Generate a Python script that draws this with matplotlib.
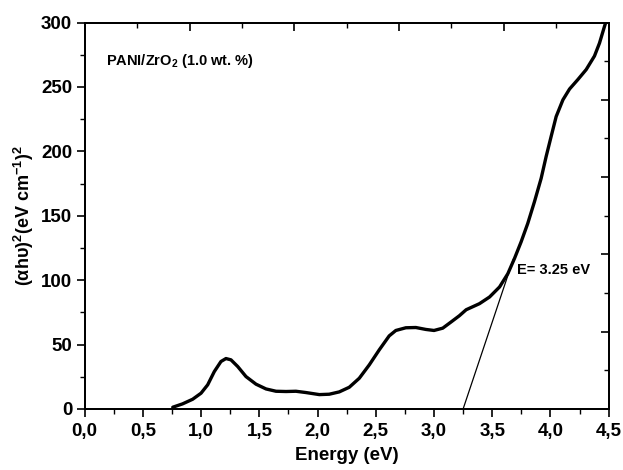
import matplotlib
matplotlib.use("Agg")
import matplotlib.pyplot as plt
from matplotlib.ticker import MultipleLocator, FuncFormatter

plt.rcParams['font.family'] = ['Liberation Sans', 'DejaVu Sans']
plt.rcParams['mathtext.fontset'] = 'custom'
plt.rcParams['mathtext.rm'] = 'Liberation Sans:bold'
plt.rcParams['mathtext.bf'] = 'Liberation Sans:bold'
plt.rcParams['mathtext.default'] = 'bf'

# curve
energy = [0.756, 0.84, 0.927, 0.999, 1.056, 1.113, 1.17, 1.213, 1.256, 1.314,
          1.385, 1.471, 1.557, 1.643, 1.729, 1.814, 1.9, 2.015, 2.1, 2.186,
          2.272, 2.358, 2.444, 2.53, 2.615, 2.672, 2.758, 2.844, 2.93, 3.0,
          3.075, 3.145, 3.217, 3.276, 3.39, 3.477, 3.563, 3.634, 3.691, 3.748,
          3.805, 3.863, 3.92, 3.963, 4.006, 4.049, 4.107, 4.164, 4.235, 4.307,
          4.378, 4.421, 4.464, 4.478]
absorb = [1.3, 3.9, 7.5, 12.2, 18.7, 29, 36.8, 39.1, 38.1, 32.9,
          25.1, 19.2, 15.5, 13.7, 13.5, 13.7, 12.7, 11.1, 11.4, 13.2,
          16.8, 23.8, 34.2, 45.9, 56.7, 60.9, 63, 63.2, 61.7, 60.9,
          62.7, 67.4, 72.3, 77, 81.7, 86.9, 94.7, 105, 116.8, 129.7,
          144, 161, 179, 196, 211.6, 227, 240, 248.4, 255.7, 263.5,
          274, 284, 297, 301]

# tangent line for the band gap
tangent_x = [3.25, 3.68]
tangent_y = [0, 116]

fig = plt.figure(figsize=(6.23, 4.70), dpi=100)
ax = fig.add_axes([0.136, 0.130, 0.841, 0.822])

ax.plot(energy, absorb, color='black', lw=2.4, solid_capstyle='round',
        solid_joinstyle='round')
ax.plot(tangent_x, tangent_y, color='black', lw=0.9)

ax.set_xlim(0, 4.5)
ax.set_ylim(0, 300)
ax.xaxis.set_major_locator(MultipleLocator(0.5))
ax.xaxis.set_minor_locator(MultipleLocator(0.25))
ax.yaxis.set_major_locator(MultipleLocator(50))
ax.yaxis.set_minor_locator(MultipleLocator(25))
ax.xaxis.set_major_formatter(FuncFormatter(lambda v, p: f"{v:.1f}".replace('.', ',')))
ax.tick_params(which='major', direction='out', length=6, width=1.2, labelsize=13.5)
ax.tick_params(which='minor', direction='out', length=3.5, width=1.0)
ax.tick_params(axis='x', pad=4)
ax.tick_params(axis='y', pad=3)
for lab in ax.get_xticklabels() + ax.get_yticklabels():
    lab.set_fontweight('bold')

# top and right axes with their own inward ticks
top = ax.twiny()
top.set_xlim(0, 4.5)
top.xaxis.set_major_locator(MultipleLocator(0.9))
top.xaxis.set_minor_locator(MultipleLocator(0.45))
top.tick_params(axis='x', which='major', direction='in', length=6, width=1.2, labeltop=False)
top.tick_params(axis='x', which='minor', direction='in', length=3.5, width=1.0)

right = ax.twinx()
right.set_ylim(0, 300)
right.yaxis.set_major_locator(MultipleLocator(60))
right.yaxis.set_minor_locator(MultipleLocator(30))
right.tick_params(axis='y', which='major', direction='in', length=6, width=1.2, labelright=False)
right.tick_params(axis='y', which='minor', direction='in', length=3.5, width=1.0)

for a in (ax, top, right):
    for s in a.spines.values():
        s.set_linewidth(1.2)

ax.set_xlabel('Energy (eV)', fontsize=13.5, fontweight='bold', labelpad=5)
ax.set_ylabel(r'($\alpha$h$\upsilon$)$^2$(eV cm$^{-1}$)$^2$', fontsize=13,
              fontweight='bold', labelpad=4)

ax.text(0.18, 270, r'PANI/ZrO$_2$ (1.0 wt. %)', fontsize=10.5, fontweight='bold',
        ha='left', va='center')
ax.text(3.71, 108, 'E= 3.25 eV', fontsize=10.5, fontweight='bold',
        ha='left', va='center')

fig.savefig('out.png', dpi=100)
